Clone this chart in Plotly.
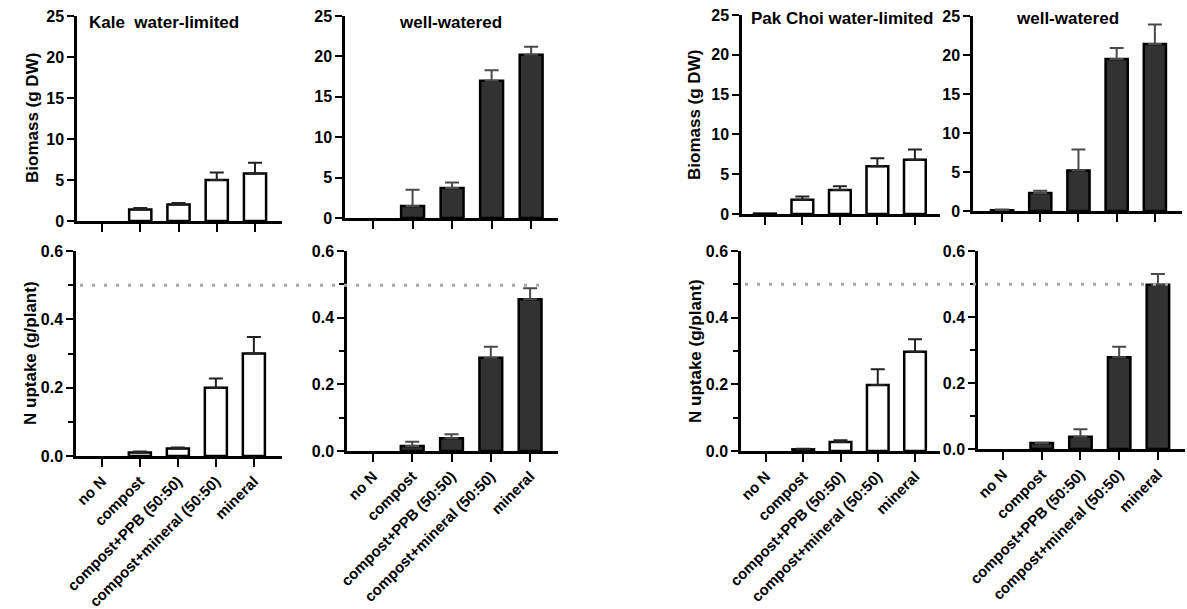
import plotly.graph_objects as go

W, H = 1187, 609

categories = ["no N", "compost", "compost+PPB (50:50)", "compost+mineral (50:50)", "mineral"]

# Biomass (g DW): mean and top of error bar
kale_wl_bio = [0.0, 1.4, 2.0, 5.0, 5.8]
kale_wl_bio_top = [0.0, 1.6, 2.2, 5.9, 7.1]
kale_ww_bio = [0.0, 1.5, 3.7, 17.0, 20.2]
kale_ww_bio_top = [0.0, 3.5, 4.4, 18.3, 21.2]
pak_wl_bio = [0.05, 1.8, 3.0, 6.0, 6.8]
pak_wl_bio_top = [0.05, 2.2, 3.5, 7.0, 8.1]
pak_ww_bio = [0.1, 2.3, 5.2, 19.5, 21.4]
pak_ww_bio_top = [0.2, 2.6, 7.9, 20.9, 23.9]

# N uptake (g/plant)
kale_wl_n = [0.0, 0.010, 0.022, 0.200, 0.300]
kale_wl_n_top = [0.0, 0.013, 0.025, 0.227, 0.348]
kale_ww_n = [0.0, 0.015, 0.038, 0.280, 0.455]
kale_ww_n_top = [0.0, 0.028, 0.050, 0.313, 0.488]
pak_wl_n = [0.0, 0.005, 0.027, 0.198, 0.298]
pak_wl_n_top = [0.0, 0.007, 0.032, 0.245, 0.335]
pak_ww_n = [0.0, 0.018, 0.037, 0.278, 0.498]
pak_ww_n_top = [0.0, 0.019, 0.060, 0.310, 0.530]

reference_n = 0.5

FONT = "Liberation Sans, Arial, sans-serif"

# panel pixel boxes: (x0, x1, ytop, ybottom, xrange_left, xrange_right)
panels = [
    (77, 282, 16, 221, -0.654, 4.706),
    (345, 558, 16, 218, -0.71, 4.68),
    (742, 940, 15, 214, -0.61, 4.67),
    (973, 1182, 16, 211, -0.76, 4.71),
    (76, 282, 251, 456, -0.68, 4.74),
    (347, 558, 251, 451, -0.66, 4.71),
    (741, 940, 251, 451, -0.67, 4.67),
    (978, 1185, 251, 449, -0.645, 4.70),
]

series = [
    (kale_wl_bio, kale_wl_bio_top, "white"),
    (kale_ww_bio, kale_ww_bio_top, "#323232"),
    (pak_wl_bio, pak_wl_bio_top, "white"),
    (pak_ww_bio, pak_ww_bio_top, "#323232"),
    (kale_wl_n, kale_wl_n_top, "white"),
    (kale_ww_n, kale_ww_n_top, "#323232"),
    (pak_wl_n, pak_wl_n_top, "white"),
    (pak_ww_n, pak_ww_n_top, "#323232"),
]

fig = go.Figure()
layout = {}
xpos = list(range(len(categories)))

for i, ((vals, tops, fill), (x0, x1, yt, yb, rl, rr)) in enumerate(zip(series, panels)):
    n = i + 1
    xa = "x" if n == 1 else f"x{n}"
    ya = "y" if n == 1 else f"y{n}"
    ecol = "#222222" if fill == "white" else "#4a4a4a"
    lw = [0 if v == 0 else 2.5 for v in vals]
    fig.add_trace(go.Bar(
        x=xpos, y=vals, width=0.58, xaxis=xa, yaxis=ya,
        marker=dict(color=fill, line=dict(color="black", width=lw)),
        showlegend=False, hoverinfo="skip",
    ))
    # upward-only error bars, only where an error exists
    ex = [x for x, v, t in zip(xpos, vals, tops) if t > v]
    ey = [v for v, t in zip(vals, tops) if t > v]
    ee = [t - v for v, t in zip(vals, tops) if t > v]
    fig.add_trace(go.Scatter(
        x=ex, y=ey, mode="markers", xaxis=xa, yaxis=ya,
        marker=dict(size=1, opacity=0),
        error_y=dict(type="data", array=ee, arrayminus=[0] * len(ee), symmetric=False,
                     color=ecol, thickness=2, width=7),
        showlegend=False, hoverinfo="skip",
    ))
    bottom_row = n > 4
    xkey = "xaxis" if n == 1 else f"xaxis{n}"
    ykey = "yaxis" if n == 1 else f"yaxis{n}"
    layout[xkey] = dict(
        domain=[x0 / W, x1 / W], anchor=ya, range=[rl, rr], automargin=False,
        tickmode="array", tickvals=xpos, ticktext=categories,
        showticklabels=bottom_row, tickangle=-45,
        tickfont=dict(family=FONT, size=15, color="black", weight="bold"),
        ticks="outside", ticklen=8, tickwidth=2, tickcolor="black",
        showline=True, linecolor="black", linewidth=2.5,
        showgrid=False, zeroline=False, fixedrange=True,
    )
    if bottom_row:
        yextra = dict(range=[0, 0.6], tickvals=[0, 0.2, 0.4, 0.6], tickformat=".1f",
                      minor=dict(tickvals=[0.1, 0.3, 0.5], ticks="outside", ticklen=5,
                                 tickwidth=2, tickcolor="black", showgrid=False))
    else:
        yextra = dict(range=[0, 25], tickvals=[0, 5, 10, 15, 20, 25])
    layout[ykey] = dict(
        domain=[1 - yb / H, 1 - yt / H], anchor=xa, automargin=False,
        tickfont=dict(family=FONT, size=16, color="black", weight="bold"),
        ticks="outside", ticklen=7, tickwidth=2, tickcolor="black",
        showline=True, linecolor="black", linewidth=2.5,
        showgrid=False, zeroline=False, fixedrange=True,
        **yextra,
    )

annotations = []
def ann(text, px, py, xanchor="center", size=17, angle=0):
    annotations.append(dict(
        text=text, x=px / W, y=1 - py / H, xref="paper", yref="paper",
        xanchor=xanchor, yanchor="middle", showarrow=False, textangle=angle,
        font=dict(family=FONT, size=size, color="black", weight="bold"),
    ))

ann("Kale\u00a0 water-limited", 87, 23, xanchor="left")
ann("well-watered", 450, 23)
ann("Pak Choi water-limited", 749, 19, xanchor="left")
ann("well-watered", 1067, 19)
ann("Biomass (g DW)", 33, 118, angle=-90)
ann("Biomass (g DW)", 694, 115, angle=-90)
ann("N uptake (g/plant)", 30, 353, angle=-90)
ann("N uptake (g/plant)", 695, 351, angle=-90)

shapes = [
    dict(type="line", xref="paper", yref="y5", x0=80 / W, x1=543 / W, y0=reference_n, y1=reference_n,
         line=dict(color="#a8a8a8", width=3, dash="3px,9px")),
    dict(type="line", xref="paper", yref="y7", x0=745 / W, x1=1177 / W, y0=reference_n, y1=reference_n,
         line=dict(color="#a8a8a8", width=3, dash="3px,9px")),
]

fig.update_layout(
    width=W, height=H, margin=dict(l=0, r=0, t=0, b=0, autoexpand=False),
    paper_bgcolor="white", plot_bgcolor="rgba(0,0,0,0)",
    font=dict(family=FONT, color="black"),
    annotations=annotations, shapes=shapes, bargap=0.4,
    **layout,
)

fig.write_html("out.html", config={"displayModeBar": False})
